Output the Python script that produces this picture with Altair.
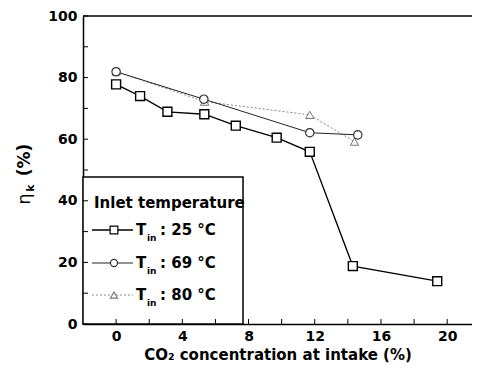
import altair as alt
import pandas as pd

# data
x25 = [0, 1.45, 3.1, 5.33, 7.23, 9.7, 11.7, 14.3, 19.4]
y25 = [77.8, 74.0, 68.9, 68.1, 64.4, 60.5, 55.9, 18.8, 13.9]
x69 = [0, 5.3, 11.7, 14.6]
y69 = [81.9, 73.0, 62.1, 61.4]
x80 = [0, 5.35, 11.7, 14.4]
y80 = [82.0, 72.2, 67.9, 59.2]

x_ticks = [0, 4, 8, 12, 16, 20]
y_ticks = [0, 20, 40, 60, 80, 100]
legend_labels = [": 25 °C", ": 69 °C", ": 80 °C"]

FONT = "DejaVu Sans"
W, H = 389, 308
xs = alt.Scale(domain=[-2, 21.5], nice=False, zero=False)
ys = alt.Scale(domain=[0, 100], nice=False)

d25 = pd.DataFrame({"x": x25, "y": y25})
d69 = pd.DataFrame({"x": x69, "y": y69})
d80 = pd.DataFrame({"x": x80, "y": y80})
one = pd.DataFrame({"a": [0]})

X = alt.X("x:Q", scale=xs, axis=alt.Axis(values=x_ticks, title="CO₂ concentration at intake (%)"))
Y = alt.Y("y:Q", scale=ys, axis=alt.Axis(values=y_ticks, title=None))

# legend box
box = alt.Chart(one).mark_rect(fill="white", stroke="black", strokeWidth=1.5).encode(
    x=alt.value(0), x2=alt.value(160), y=alt.value(161), y2=alt.value(308))

# inward ticks
ytk = pd.DataFrame({"y": list(range(0, 101, 10))})
xtk = pd.DataFrame({"x": list(range(0, 22, 2))})
yticks = alt.Chart(ytk).mark_rule(color="black", strokeWidth=1).encode(
    y=alt.Y("y:Q", scale=ys), x=alt.value(0), x2=alt.value(5))
xticks = alt.Chart(xtk).mark_rule(color="black", strokeWidth=1).encode(
    x=alt.X("x:Q", scale=xs), y=alt.value(H), y2=alt.value(H - 5))
topline = alt.Chart(one).mark_rule(color="black", strokeWidth=1.5).encode(
    x=alt.value(0), x2=alt.value(W), y=alt.value(0))

l80 = alt.Chart(d80).mark_line(color="#888", strokeWidth=1, strokeDash=[2, 2]).encode(x=X, y=Y)
l69 = alt.Chart(d69).mark_line(color="#222", strokeWidth=1).encode(x=X, y=Y)
l25 = alt.Chart(d25).mark_line(color="black", strokeWidth=1.3).encode(x=X, y=Y)
p80 = alt.Chart(d80).mark_point(shape="triangle-up", size=70, fill="white", filled=True,
                                stroke="#777", strokeWidth=1, opacity=1).encode(x=X, y=Y)
p69 = alt.Chart(d69).mark_point(shape="circle", size=70, fill="white", filled=True,
                                stroke="#333", strokeWidth=1.2, opacity=1).encode(x=X, y=Y)
p25 = alt.Chart(d25).mark_point(shape="square", size=80, fill="white", filled=True,
                                stroke="black", strokeWidth=1.4, opacity=1).encode(x=X, y=Y)

# manual legend
ly = [214, 247, 279]
styles = [dict(color="black", strokeWidth=1.3), dict(color="#222", strokeWidth=1),
          dict(color="#888", strokeWidth=1, strokeDash=[2, 2])]
shapes = [("square", "black", 60), ("circle", "#333", 50), ("triangle-up", "#777", 50)]
leg = []
leg.append(alt.Chart(one).mark_text(text="Inlet temperature", font=FONT, fontWeight="bold",
                                    fontSize=15, align="left", baseline="middle").encode(
    x=alt.value(11), y=alt.value(187)))
for i in range(3):
    leg.append(alt.Chart(one).mark_rule(**styles[i]).encode(
        x=alt.value(9), x2=alt.value(50), y=alt.value(ly[i])))
    sh, col, sz = shapes[i]
    leg.append(alt.Chart(one).mark_point(shape=sh, size=sz, fill="white", filled=True,
                                         stroke=col, strokeWidth=1.2, opacity=1).encode(
        x=alt.value(31), y=alt.value(ly[i])))
    leg.append(alt.Chart(one).mark_text(text="T", font=FONT, fontWeight="bold", fontSize=15,
                                        align="left", baseline="middle").encode(
        x=alt.value(53), y=alt.value(ly[i])))
    leg.append(alt.Chart(one).mark_text(text="in", font=FONT, fontWeight="bold", fontSize=9,
                                        align="left", baseline="middle").encode(
        x=alt.value(64), y=alt.value(ly[i] + 8)))
    leg.append(alt.Chart(one).mark_text(text=legend_labels[i], font=FONT, fontWeight="bold",
                                        fontSize=15, align="left", baseline="middle").encode(
        x=alt.value(77), y=alt.value(ly[i])))

# y title
yt = [
    alt.Chart(one).mark_text(text="η", font=FONT, fontSize=18, angle=270,
                             baseline="middle").encode(x=alt.value(-58), y=alt.value(183)),
    alt.Chart(one).mark_text(text="k", font=FONT, fontWeight="bold", fontSize=11, angle=270,
                             baseline="middle").encode(x=alt.value(-52), y=alt.value(172)),
    alt.Chart(one).mark_text(text="(%)", font=FONT, fontWeight="bold", fontSize=17, angle=270,
                             baseline="middle").encode(x=alt.value(-58), y=alt.value(144)),
]

chart = alt.layer(box, topline, l80, l69, l25, p80, p69, p25, *leg, *yt, yticks, xticks).properties(
    width=W, height=H,
    autosize=alt.AutoSizeParams(type="none"),
    padding={"left": 75, "top": 8, "right": 0, "bottom": 46},
).configure_view(stroke=None).configure_axis(
    labelFont=FONT, labelFontWeight="bold", labelFontSize=14, labelColor="black",
    domainColor="black", domainWidth=1.5, ticks=False, grid=False, labelPadding=6,
    titleFont=FONT, titleFontWeight="bold", titleFontSize=15, titleColor="black",
).configure_axisX(titlePadding=4, labelPadding=5).configure_axisY(labelPadding=6)

chart.save("out.html", embed_options={"renderer": "svg", "actions": False})
